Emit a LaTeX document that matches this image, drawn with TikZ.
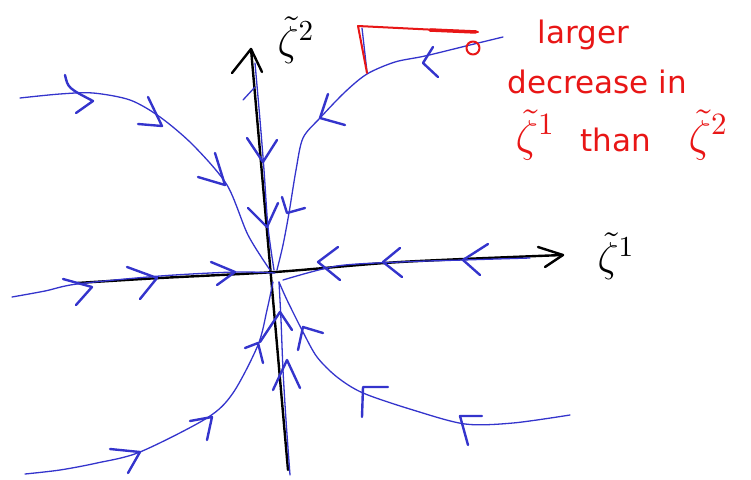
\documentclass[tikz,border=0pt]{standalone}
\usepackage{fontspec}
\setmainfont{DejaVu Sans}
\definecolor{pen}{RGB}{52,52,204}
\definecolor{redpen}{RGB}{232,22,22}
\tikzset{
  traj/.style={pen, line width=1.3pt, line cap=round, line join=round},
  chev/.style={pen, line width=2.4pt, line cap=round, line join=round},
  axisline/.style={black, line width=2.4pt, line cap=round, line join=round},
  note/.style={redpen, line width=2pt, line cap=round, line join=round},
  notetext/.style={redpen, font=\fontsize{10}{12}\selectfont, scale=3.1, inner sep=0pt, anchor=base west},
  axlabel/.style={black, font=\Large, scale=2.9, inner sep=0pt},
}
\begin{document}
\begin{tikzpicture}[x=1pt,y=-1pt]
\useasboundingbox (0,0) rectangle (751,479);

% axes
\coordinate (vtop) at (251,49);
\coordinate (vbot) at (288,470);
\coordinate (hl) at (77,283);
\coordinate (hr) at (563,255);
\draw[axisline] (vbot) -- (vtop);
\draw[axisline] (232,73) -- (vtop) -- (262,72);
\draw[axisline] plot[smooth] coordinates {(hl) (160,278) (275,272) (400,262) (hr)};
\draw[axisline] (538,247) -- (hr) -- (545,267);

% trajectories
\draw[traj] plot[smooth] coordinates {(503,37) (470,45) (425,56) (395,62) (367,74) (345,92) (320,118) (303,138) (296,170) (289,213) (283,245) (277,270)};
\draw[traj] plot[smooth] coordinates {(20,98) (60,94) (93,93) (130,100) (160,117) (193,145) (227,185) (248,235) (270,270)};
\draw[traj] plot[smooth] coordinates {(255,63) (260,120) (264,170) (268,227) (274,270)};
\draw[traj] plot[smooth] coordinates {(12,297) (45,291) (77,284) (160,276) (235,272) (275,273)};
\draw[traj] plot[smooth] coordinates {(530,258) (463,260) (400,262) (337,266) (283,280)};
\draw[traj] plot[smooth] coordinates {(25,474) (60,470) (97,463) (140,452) (207,418) (233,393) (258,345) (267,310) (273,282)};
\draw[traj] plot[smooth] coordinates {(290,475) (286,420) (283,370) (281,320) (279,282)};
\draw[traj] plot[smooth] coordinates {(570,415) (513,423) (465,424) (413,410) (363,393) (337,377) (317,357) (303,332) (287,300) (279,282)};
\draw[traj] (243,100) -- (255,87);
\draw[traj] (362,28) -- (367,72);

% chevrons
\draw[chev] (433,47) -- (423,63) -- (438,77);
\draw[chev] (328,94) -- (320,118) -- (345,125);
\draw[chev] (282,197) -- (287,213) -- (305,208);
\draw[chev] (65,75) .. controls (68,88) .. (93,101) -- (76,113);
\draw[chev] (148,97) -- (162,126) -- (138,124);
\draw[chev] (215,153) -- (225,185) -- (198,177);
\draw[chev] (247,138) -- (263,162) -- (277,140);
\draw[chev] (248,208) -- (267,227) -- (278,203);
\draw[chev] (63,279) -- (92,287) -- (76,305);
\draw[chev] (127,267) -- (157,278) -- (140,299);
\draw[chev] (211,262) -- (235,272) -- (217,285);
\draw[chev] (338,247) -- (318,262) -- (340,280);
\draw[chev] (400,248) -- (383,262) -- (402,277);
\draw[chev] (488,244) -- (463,260) -- (480,275);
\draw[chev] (110,449) -- (140,452) -- (128,473);
\draw[chev] (190,421) -- (212,417) -- (207,440);
\draw[chev] (245,348) -- (258,343) -- (263,363);
\draw[chev] (273,390) -- (287,360) -- (300,388);
\draw[chev] (260,342) -- (280,312) -- (292,330);
\draw[chev] (362,417) -- (363,387) -- (388,387);
\draw[chev] (468,445) -- (460,416) -- (482,416);
\draw[chev] (298,350) -- (303,327) -- (323,333);

% red annotation
\draw[note] (367,73) -- (358,26) -- (478,32);
\draw[note, line width=3.5pt] (430,30) -- (476,32);
\draw[note] (473,48) circle[radius=6.5];

% labels
\node[axlabel] (lab2) at (296,40) {$\tilde{\zeta}^{2}$};
\node[axlabel] (lab1) at (616,256) {$\tilde{\zeta}^{1}$};
\node[notetext] (t1) at (537,43) {larger};
\node[notetext] (t2) at (507,93) {decrease in};
\node[notetext] (t3) at (515,151) {{\Large$\tilde{\zeta}^{1}$}\hspace{5pt} than\hspace{9pt} {\Large$\tilde{\zeta}^{2}$}};
\end{tikzpicture}
\end{document}
